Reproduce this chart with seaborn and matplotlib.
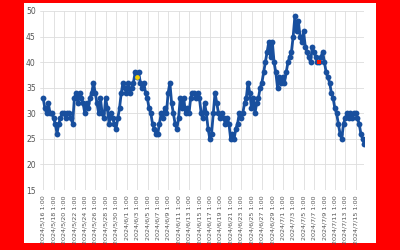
import numpy as np
import pandas as pd
import matplotlib
matplotlib.use("Agg")
import matplotlib.pyplot as plt
import seaborn as sns

# readings, three per day starting 2024/5/16
values = [
    33, 31, 30,  32, 30, 30,  29, 28, 26,  28, 29, 30,  30, 29, 30,
    30, 29, 28,  33, 34, 32,  34, 33, 32,  30, 32, 31,  33, 34, 36,
    34, 32, 30,  33, 30, 29,  33, 31, 28,  30, 29, 28,  27, 29, 31,
    34, 36, 35,  34, 36, 34,  35, 36, 38,  37, 38, 36,  35, 36, 34,
    33, 31, 30,  28, 27, 26,  26, 28, 30,  29, 31, 30,  34, 36, 32,
    30, 28, 27,  29, 33, 31,  33, 30, 31,  30, 33, 34,  34, 33, 34,
    33, 30, 29,  32, 30, 27,  25, 26, 30,  34, 32, 30,  29, 30, 29,
    28, 29, 28,  25, 26, 25,  27, 28, 30,  29, 30, 32,  33, 36, 34,
    31, 33, 30,  32, 33, 35,  36, 38, 40,  42, 44, 41,  44, 40, 38,
    35, 37, 36,  37, 36, 38,  40, 41, 42,  45, 49, 46,  48, 45, 44,
    46, 43, 42,  41, 40, 43,  42, 41, 40,  40, 41, 42,  40, 38, 37,
    36, 34, 33,  31, 30, 28,  26, 25, 28,  29, 30, 29,  30, 29, 30,
    30, 29, 28,  26, 25, 24,
]
yellow_index = [54]
red_index = [159]
tick_dates = pd.date_range("2024-05-16 01:00", "2024-07-15 01:00", freq="2D")
tick_labels = [f"{d.year}/{d.month}/{d.day} 1:00" for d in tick_dates]

days = np.arange(len(values)) / 3.0
df = pd.DataFrame({"day": days, "value": values})

sns.set_theme(style="white")
plt.rcParams["font.family"] = ["DejaVu Sans"]

fig = plt.figure(figsize=(4, 2.5), dpi=100)
fig.patch.set_facecolor("#ff0000")
fig.add_artist(plt.Rectangle((24 / 400, 1 - 243 / 250), 352 / 400, 240 / 250,
                             transform=fig.transFigure, facecolor="white",
                             edgecolor="none", zorder=0))
ax = fig.add_axes([40 / 400, 1 - 190 / 250, 324 / 400, 179 / 250])
ax.set_facecolor("white")

blue = "#184f9e"
sns.lineplot(data=df, x="day", y="value", ax=ax, color=blue, linewidth=2.0,
             marker="o", markersize=4.2, markeredgewidth=0, zorder=3)
hy = df.iloc[yellow_index]
hr = df.iloc[red_index]
ax.scatter(hy["day"], hy["value"], s=12, color="#f5d000", zorder=4, linewidths=0)
ax.scatter(hr["day"], hr["value"], s=12, color="#ff1a00", marker="s", zorder=4, linewidths=0)

tick_pos = [i * 2 + 1 / 24 for i in range(len(tick_labels))]
ax.set_xticks(tick_pos)
ax.set_xticklabels(tick_labels, rotation=90, fontsize=4.6, color="#555555")
ax.set_xlim(-0.6, 61.6)
ax.set_ylim(15, 50)
ax.set_yticks(range(15, 51, 5))
ax.tick_params(axis="y", labelsize=5.5, colors="#555555", length=0, pad=3)
ax.tick_params(axis="x", length=0, pad=4)
ax.grid(True, color="#dddddd", linewidth=0.6)
for s in ax.spines.values():
    s.set_visible(False)
ax.set_xlabel("")
ax.set_ylabel("")

fig.savefig("out.png", dpi=100, facecolor=fig.get_facecolor())
